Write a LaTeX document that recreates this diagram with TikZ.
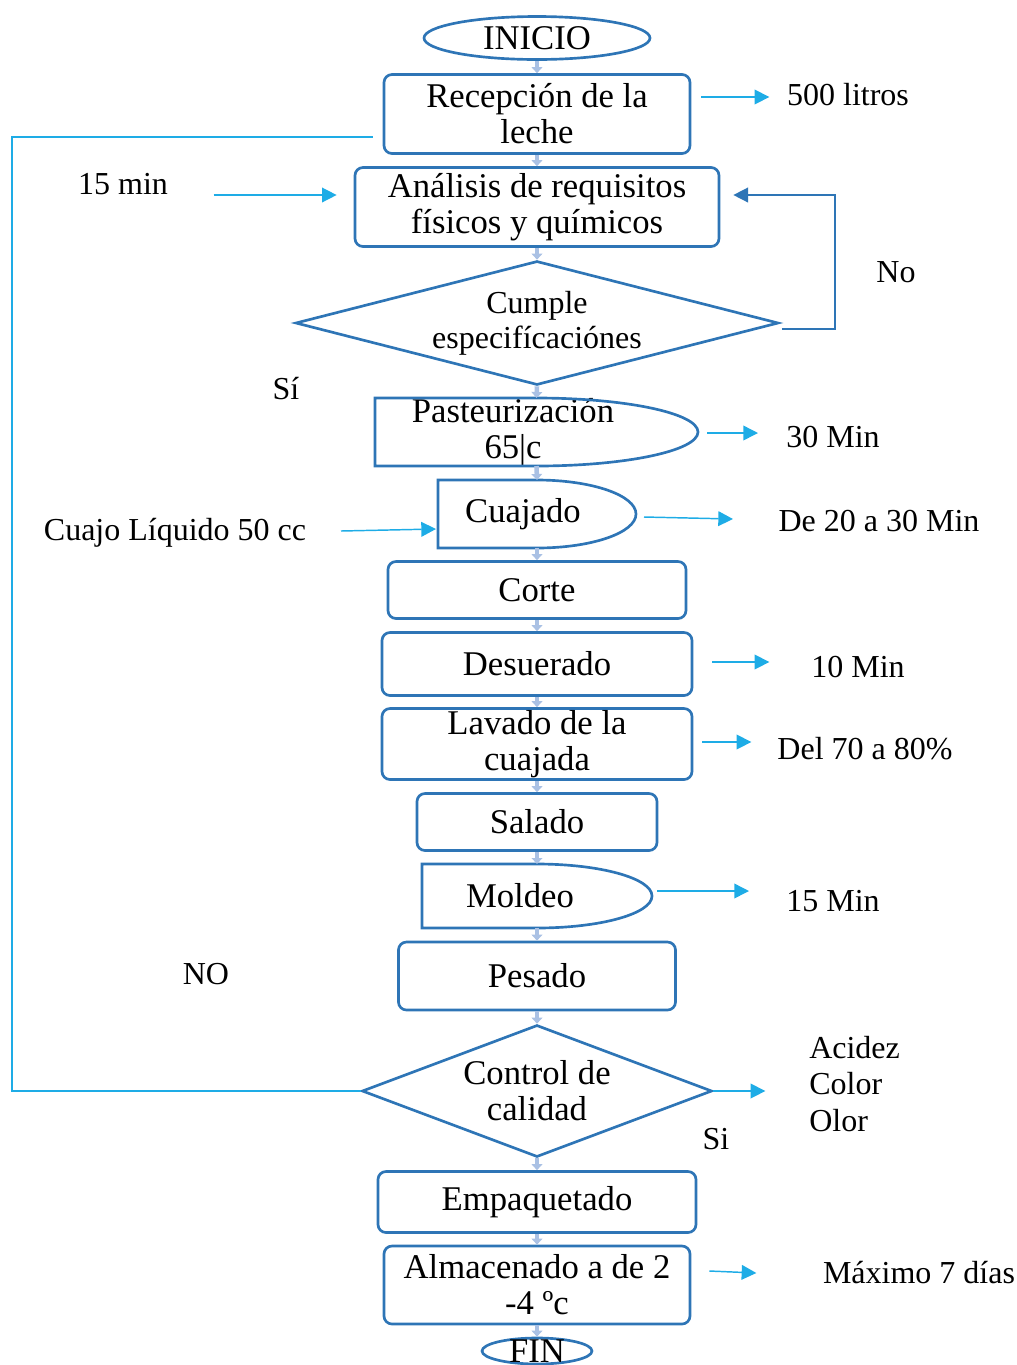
\documentclass[tikz,border=0pt]{standalone}
\usepackage{fontspec}
\setmainfont{Liberation Serif}
\usepackage{tikz}
\usetikzlibrary{shapes,arrows.meta,calc}
\definecolor{boxblue}{RGB}{46,117,182}
\definecolor{flowgray}{RGB}{170,193,228}
\definecolor{sideblue}{RGB}{30,172,230}
\newdimen\pxu
\pxu=0.75pt

\begin{document}
\begin{tikzpicture}[
  x=0.75pt, y=0.75pt,
  base/.style={draw=boxblue, line width=2pt, align=center, inner sep=0pt,
    font=\fontsize{26}{27}\selectfont},
  proc/.style={base, rectangle, rounded corners=6pt},
  term/.style={base, ellipse},
  cond/.style={base, diamond},
  delaybox/.style={rectangle, inner sep=0pt, outer sep=0pt},
  delayline/.style={draw=boxblue, line width=2pt},
  txt/.style={align=center, inner sep=0pt, font=\fontsize{26}{27}\selectfont},
  note/.style={align=center, inner sep=0pt, font=\fontsize{24}{27.5}\selectfont},
  flow/.style={draw=flowgray, line width=3.4pt, -{Triangle[width=8pt,length=4.5pt]}},
  side/.style={draw=sideblue, line width=1.1pt, -{Triangle[width=11pt,length=11pt]}},
  loopno/.style={draw=boxblue, line width=1.1pt, -{Triangle[width=11pt,length=11pt]}},
  loopsi/.style={draw=sideblue, line width=1.1pt},
]
  \useasboundingbox (0,0) rectangle (1017,-1365);

  \node[term, minimum width=226\pxu, minimum height=43\pxu] (ini) at (537,-38) {INICIO};
  \node[proc, minimum width=306\pxu, minimum height=79\pxu] (rec) at (537,-114) {Recepción de la\\leche};
  \node[proc, minimum width=364\pxu, minimum height=79\pxu] (anal) at (537,-207) {Análisis de requisitos\\físicos y químicos};
  \node[cond, font=\fontsize{24}{26}\selectfont, shape aspect=3.9,
    minimum width=483\pxu, minimum height=124\pxu] (cump) at (537,-323) {Cumple\\especifícaciónes};
  \node[delaybox, minimum width=323\pxu, minimum height=68\pxu] (past) at (536.5,-432) {};
  \node[txt] (pastt) at (513,-432) {Pasteurización\\65|c};
  \node[delaybox, minimum width=198\pxu, minimum height=68\pxu] (cuaj) at (537,-514) {};
  \node[txt] (cuajt) at (523,-514) {Cuajado};
  \node[proc, minimum width=298\pxu, minimum height=57\pxu] (cort) at (537,-590) {Corte};
  \node[proc, minimum width=310\pxu, minimum height=63\pxu] (desu) at (537,-664) {Desuerado};
  \node[proc, minimum width=310\pxu, minimum height=71\pxu] (lav) at (537,-744) {Lavado de la\\cuajada};
  \node[proc, minimum width=240\pxu, minimum height=57\pxu] (sal) at (537,-822) {Salado};
  \node[delaybox, minimum width=230\pxu, minimum height=64\pxu] (mold) at (537,-896) {};
  \node[txt] (moldt) at (520,-896) {Moldeo};
  \node[proc, minimum width=277\pxu, minimum height=68\pxu] (pes) at (537,-976) {Pesado};
  \node[cond, shape aspect=2.65, minimum width=350\pxu, minimum height=132\pxu] (ctrl) at (537,-1091) {Control de\\calidad};
  \node[proc, minimum width=318\pxu, minimum height=61\pxu] (emp) at (537,-1202) {Empaquetado};
  \node[proc, minimum width=306\pxu, minimum height=78\pxu] (alm) at (537,-1285) {Almacenado a de 2\\-4 ºc};
  \node[term, minimum width=110\pxu, minimum height=26\pxu] (fin) at (537,-1351) {};
  \node[txt] (fint) at (fin) {FIN};

  \foreach \s in {past,cuaj,mold}
    \draw[delayline] let \p1=(\s.north east), \p2=(\s.south) in
      (\s.north) -- (\s.north west) -- (\s.south west) -- (\s.south)
      arc[start angle=-90, end angle=90, x radius={\x1-\x2}, y radius={(\y1-\y2)/2}] -- cycle;

  \foreach \a/\b in {ini/rec, rec/anal, anal/cump, cump/past, past/cuaj, cuaj/cort, cort/desu,
      desu/lav, lav/sal, sal/mold, mold/pes, pes/ctrl, ctrl/emp, emp/alm, alm/fin}
    \draw[flow] (\a.south) -- (\b.north);

  \node[note] (lit) at (848,-95) {500 litros};
  \node[note] (min15) at (123,-184) {15 min};
  \node[note] (no) at (896,-272) {No};
  \node[note] (si1) at (286,-389) {Sí};
  \node[note] (min30) at (833,-437) {30 Min};
  \node[note] (cuajo) at (175,-533) {Cuajo Líquido 50 cc};
  \node[note] (min2030) at (879,-521) {De 20 a 30 Min};
  \node[note] (min10) at (858,-667) {10 Min};
  \node[note] (pct) at (865,-749) {Del 70 a 80\%};
  \node[note] (min15b) at (833,-901) {15 Min};
  \node[note] (no2) at (206,-974) {NO};
  \node[note, anchor=west, align=left] (attr) at (809,-1084) {Acidez\\Color\\Olor};
  \node[note] (si2) at (716,-1139) {Si};
  \node[note] (dias) at (919,-1273) {Máximo 7 días};

  \draw[side] ([shift={(10,17)}]rec.east) -- ++(68,0);
  \draw[side] ([shift={(-140,12)}]anal.west) -- ++(123,0);
  \draw[side] ([shift={(9,-1)}]past.east) -- ++(51,0);
  \draw[side] ([shift={(-97,-17)}]cuaj.west) -- ([shift={(-2,-15)}]cuaj.west);
  \draw[side] ([shift={(8,-3)}]cuaj.east) -- ++(89,-2);
  \draw[side] ([shift={(19,2)}]desu.east) -- ++(57,0);
  \draw[side] ([shift={(9,2)}]lav.east) -- ++(49,0);
  \draw[side] ([shift={(5,5)}]mold.east) -- ++(92,0);
  \draw[side] (ctrl.east) -- ++(52,0);
  \draw[side] ([shift={(18,14)}]alm.east) -- ++(47,-2);

  \draw[loopno] ([shift={(2,-6)}]cump.east) -- ++(53,0) |- ([shift={(13,12)}]anal.east);
  \coordinate (lft) at (12,0);
  \draw[loopsi] (ctrl.west) -- (ctrl.west -| lft) |- ([shift={(-10,-23)}]rec.west);
\end{tikzpicture}
\end{document}
